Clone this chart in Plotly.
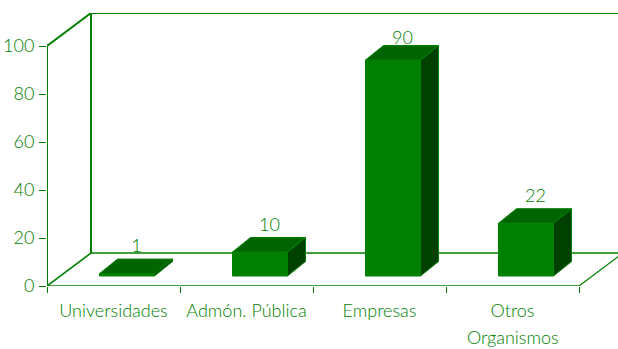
import plotly.graph_objects as go

categories = ["Universidades", "Admón. Pública", "Empresas", "Otros"]
second_line = {3: "Organismos"}
values = [1, 10, 90, 22]
value_ticks = [0, 20, 40, 60, 80, 100]

GREEN = "#008000"
TOP = "#006400"
SIDE = "#004000"
TEXT = "#008000"
FONT = "Lato"
WEIGHT = 300

W, H = 618, 349
L, B, T = 47, 63, 13
PX_X = 133.0           # px per category
PX_Y = 2.4             # px per value unit
x_max = (W - L) / PX_X
y_max = (H - B - T) / PX_Y

wall_dx, wall_dy = 44 / PX_X, 33 / PX_Y
front_dx, front_dy = 13.5 / PX_X, 10 / PX_Y
bar_w = 55 / PX_X
depth_dx, depth_dy = 18 / PX_X, 14.5 / PX_Y
n = len(categories)

fig = go.Figure()


def line(xs, ys, width):
    fig.add_trace(go.Scatter(x=xs, y=ys, mode="lines", hoverinfo="skip", cliponaxis=False,
                             line=dict(color=GREEN, width=width)))


def poly(xs, ys, color):
    fig.add_trace(go.Scatter(x=xs, y=ys, mode="lines", fill="toself", fillcolor=color,
                             hoverinfo="skip", line=dict(color=GREEN, width=1)))


top = value_ticks[-1]
line([0, 0], [0, top], 2)
line([0, wall_dx, wall_dx, x_max], [top, top + wall_dy, top + wall_dy, top + wall_dy], 2)
line([wall_dx, wall_dx], [wall_dy, top + wall_dy], 2)
line([0, wall_dx, x_max], [0, wall_dy, wall_dy], 1.6)
line([0, n], [0, 0], 1.6)
line([n, n + wall_dx], [0, wall_dy], 1.2)

lx, ly = [], []
for i, v in enumerate(values):
    x0 = i + 0.5 + front_dx - bar_w / 2
    x1 = x0 + bar_w
    y0 = front_dy
    y1 = y0 + v
    poly([x0, x1, x1, x0, x0], [y0, y0, y1, y1, y0], GREEN)
    poly([x1, x1 + depth_dx, x1 + depth_dx, x1, x1],
         [y0, y0 + depth_dy, y1 + depth_dy, y1, y0], SIDE)
    poly([x0, x1, x1 + depth_dx, x0 + depth_dx, x0],
         [y1, y1, y1 + depth_dy, y1 + depth_dy, y1], TOP)
    lx.append(x0 + bar_w / 2 + 9.5 / PX_X)
    ly.append(min(y1 + depth_dy + 11.5 / PX_Y, top + 2.6))

font = dict(family=FONT, size=18, color=TEXT, weight=WEIGHT)

fig.add_trace(go.Scatter(x=lx, y=ly, mode="text", text=[str(v) for v in values],
                         textposition="middle center", hoverinfo="skip", textfont=font))

annotations = [
    dict(x=i + 0.5, y=0, xref="x", yref="y", text=t, showarrow=False, yshift=-51, font=font)
    for i, t in second_line.items()
]

fig.update_layout(
    width=W, height=H, showlegend=False, paper_bgcolor="white", plot_bgcolor="white",
    margin=dict(l=L, r=0, t=T, b=B, pad=0), annotations=annotations,
    xaxis=dict(range=[0, x_max], showgrid=False, zeroline=False, showline=False,
               tickmode="array", tickvals=[i + 0.5 for i in range(n)], ticktext=categories,
               ticks="", ticklabelstandoff=12, tickfont=font,
               minor=dict(tickmode="array", tickvals=list(range(n + 1)), ticks="outside",
                          ticklen=6, tickwidth=1, tickcolor=GREEN, showgrid=False)),
    yaxis=dict(range=[0, y_max], showgrid=False, zeroline=False, showline=False,
               tickmode="array", tickvals=value_ticks, ticks="outside", ticklen=7,
               tickwidth=1, tickcolor=GREEN, ticklabelstandoff=1, tickfont=font),
)
fig.write_html("out.html", config=dict(displayModeBar=False),
               post_script="document.body.style.margin='0';document.body.style.overflow='hidden';")
